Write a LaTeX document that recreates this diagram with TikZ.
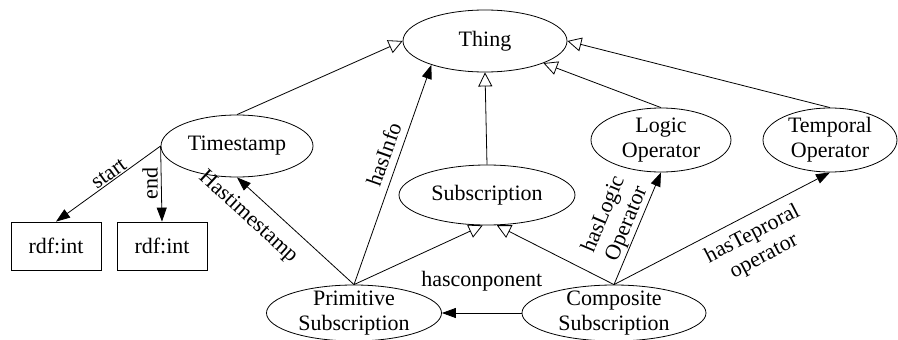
\documentclass[tikz,border=0pt]{standalone}
\usepackage{fontspec}
\setmainfont{Liberation Serif}
\usetikzlibrary{arrows.meta,shapes.geometric}
\tikzset{
  cls/.style={ellipse,draw,line width=0.8pt,inner sep=0pt,inner ysep=-5pt,align=center,font=\fontsize{22}{25}\selectfont},
  lit/.style={rectangle,draw,line width=0.8pt,minimum width=90pt,minimum height=48pt,font=\fontsize{22}{25}\selectfont},
  isa/.style={line width=0.8pt,-{Triangle[open,length=14pt,width=14pt]}},
  rel/.style={line width=0.8pt,-{Triangle[length=14pt,width=10pt]}},
  lbl/.style={font=\fontsize{22}{25}\selectfont,inner sep=1pt,align=center}
}

\begin{document}
\begin{tikzpicture}[x=1pt,y=-1pt]
  \useasboundingbox (0,0) rectangle (898,340);
  % classes
  \node[cls,minimum width=164pt,minimum height=62pt] (thing) at (485,41) {Thing};
  \node[cls,minimum width=152pt,minimum height=62pt] (ts) at (237,146) {Timestamp};
  \node[cls,minimum width=176pt,minimum height=60pt] (sub) at (487,195) {Subscription};
  \node[cls,minimum width=140pt,minimum height=64pt] (logic) at (661,140) {Logic\\Operator};
  \node[cls,minimum width=134pt,minimum height=64pt] (temp) at (830,140) {Temporal\\Operator};
  \node[cls,minimum width=175pt,minimum height=56pt] (prim) at (354,313) {Primitive\\Subscription};
  \node[cls,minimum width=184pt,minimum height=56pt] (comp) at (614,313) {Composite\\Subscription};
  % literals
  \node[lit] (int1) at (56,246) {rdf:int};
  \node[lit] (int2) at (162,246) {rdf:int};
  % subclass links
  \draw[isa] (ts.north) -- (thing.west);
  \draw[isa] (sub.north) -- (thing.south);
  \draw[isa] (logic.north) -- (thing);
  \draw[isa] (temp.north) -- (thing.east);
  \draw[isa] (prim.north) -- (sub.262);
  \draw[isa] (comp.north) -- (sub.288);
  % properties
  \draw[rel] (ts.west) -- node[lbl,sloped,above,pos=0.45]{start} (int1.north);
  \draw[rel] (ts.west) -- node[lbl,rotate=90,anchor=south,inner sep=3pt]{end} (int2.north);
  \draw[rel] (prim.north) -- node[lbl,sloped,below=11pt,pos=0.78]{Hastimestamp} (ts.south);
  \draw[rel] (prim.north) -- node[lbl,sloped,above=6pt,pos=0.57]{hasInfo} (thing.204);
  \draw[rel] (comp.west) -- node[lbl,above=20pt]{hasconponent} (prim.east);
  \draw[rel] (comp.north) -- node[lbl,sloped,above,pos=0.5]{hasLogic\\Operator} (logic.south);
  \draw[rel] (comp.north) -- node[lbl,sloped,below=8pt,pos=0.6]{hasTeproral\\operator} (temp.south);
\end{tikzpicture}
\end{document}
